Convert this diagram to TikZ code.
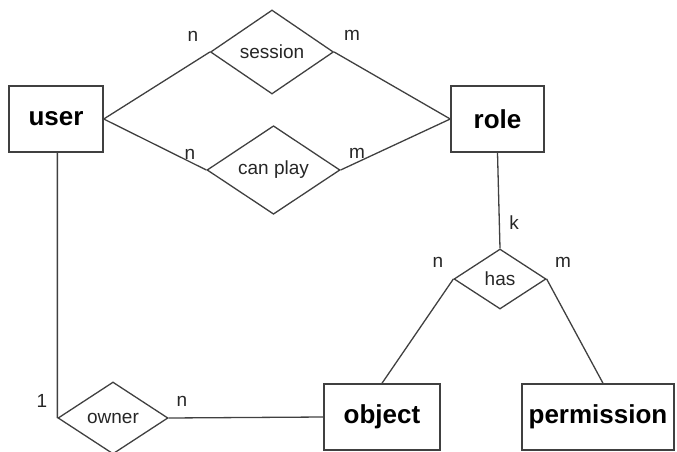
\documentclass[tikz,border=0pt]{standalone}
\usepackage{fontspec}
\setmainfont{Liberation Sans}
\usetikzlibrary{shapes.geometric}
\definecolor{linegray}{HTML}{404040}
\begin{document}
\begin{tikzpicture}[x=1pt,y=-1pt,line width=1.3pt,
	entity/.style={draw=linegray,line width=1.5pt,inner sep=0pt,font=\fontsize{26}{30}\selectfont\bfseries},
	relation/.style={diamond,draw=linegray,inner sep=0pt,aspect=1,font=\fontsize{19}{22}\selectfont,text=black!85},
	card/.style={inner sep=0pt,font=\fontsize{19}{22}\selectfont,text=black!85}]
	\clip (0,0) rectangle (677,452);
	% entities
	\node[entity,minimum width=94pt,minimum height=66pt] (user) at (56,119) {user};
	\node[entity,minimum width=93pt,minimum height=66pt] (role) at (497.5,119) {role};
	\node[entity,minimum width=116pt,minimum height=66pt] (object) at (382,417) {object};
	\node[entity,minimum width=152pt,minimum height=66pt] (permission) at (598,417) {permission};
	% relationships
	\node[relation,minimum width=123pt,minimum height=84pt] (session) at (272,52) {session};
	\node[relation,minimum width=133pt,minimum height=88pt] (canplay) at (273.5,170) {can play};
	\node[relation,minimum width=92pt,minimum height=60pt] (has) at (500,279) {has};
	\node[relation,minimum width=110pt,minimum height=72pt] (owner) at (113,418) {owner};
	% connectors
	\draw[linegray] (user.east)--(session.west) (session.east)--(role.west);
	\draw[linegray] (user.east)--(canplay.west) (canplay.east)--(role.west);
	\draw[linegray] (role.south)--(has.north);
	\draw[linegray] (has.west)--(object.north) (has.east)--([xshift=5pt]permission.north);
	\draw[linegray] (user.south -| owner.west)--(owner.west) (owner.east)--(object.west);
	% cardinalities
	\node[card] (c1) at (193,36) {n};
	\node[card] (c2) at (352,35) {m};
	\node[card] (c3) at (190,154) {n};
	\node[card] (c4) at (357,153) {m};
	\node[card] (c5) at (514,223) {k};
	\node[card] (c6) at (438,262) {n};
	\node[card] (c7) at (563,262) {m};
	\node[card] (c8) at (42,401) {1};
	\node[card] (c9) at (182,401) {n};
\end{tikzpicture}
\end{document}
